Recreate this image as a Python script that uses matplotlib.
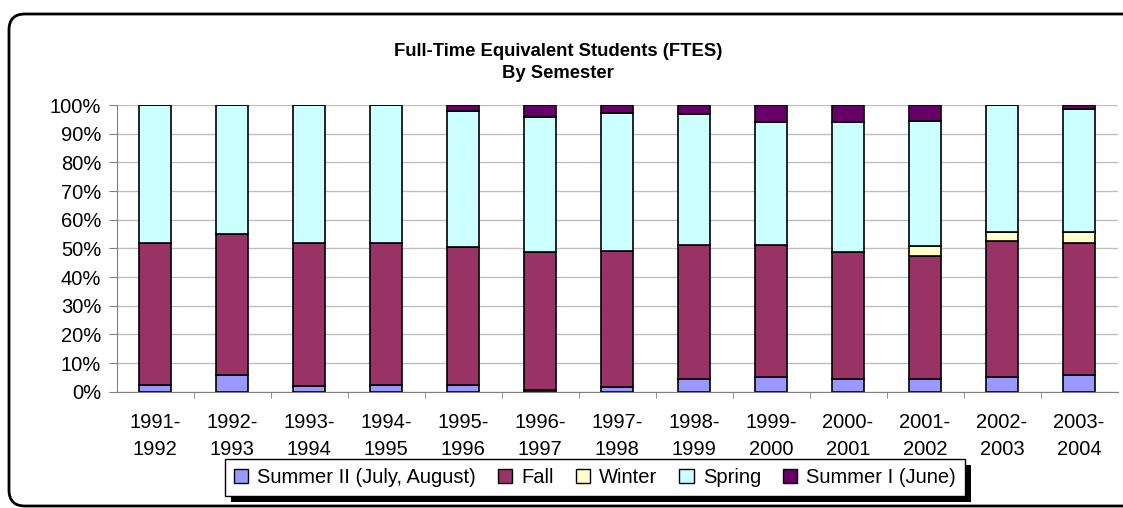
import matplotlib
matplotlib.use("Agg")
import matplotlib.pyplot as plt
import numpy as np
from matplotlib.patches import FancyBboxPatch, Patch
from matplotlib.transforms import IdentityTransform

plt.rcParams['font.family'] = ['Liberation Sans', 'DejaVu Sans']

years = ["1991-\n1992", "1992-\n1993", "1993-\n1994", "1994-\n1995", "1995-\n1996",
         "1996-\n1997", "1997-\n1998", "1998-\n1999", "1999-\n2000", "2000-\n2001",
         "2001-\n2002", "2002-\n2003", "2003-\n2004"]

# percent share of FTES per semester
summer2 = [2.4, 5.7, 1.9, 2.4, 2.3, 0.6, 1.7, 4.4, 5.1, 4.5, 4.5, 5.2, 5.8]
fall    = [49.5, 49.4, 50.0, 49.5, 48.3, 48.0, 47.5, 46.9, 46.2, 44.1, 42.7, 47.2, 46.2]
winter  = [0, 0, 0, 0, 0, 0, 0, 0, 0, 0, 3.5, 3.4, 3.8]
spring  = [48.1, 44.9, 48.1, 48.1, 47.3, 47.3, 48.1, 45.4, 42.7, 45.4, 43.8, 44.2, 42.7]
summer1 = [0, 0, 0, 0, 2.1, 4.1, 2.7, 3.3, 6.0, 6.0, 5.5, 0, 1.5]

names = ["Summer II (July, August)", "Fall", "Winter", "Spring", "Summer I (June)"]
colors = ["#9999FF", "#993366", "#FFFFCC", "#CCFFFF", "#660066"]
series = [summer2, fall, winter, spring, summer1]

fig = plt.figure(figsize=(11.23, 5.08), dpi=100)

# rounded chart frame, runs off the right edge like the original
frame = FancyBboxPatch((9, 2), 1150, 492, boxstyle="round,pad=0,rounding_size=16",
                       transform=IdentityTransform(), fill=False,
                       edgecolor="black", linewidth=2)
fig.patches.append(frame)

ax = fig.add_axes([116.5 / 1123, 1 - 391.7 / 508, 1001 / 1123, 286.7 / 508])

ind = np.arange(len(years))
bottom = np.zeros(len(years))
for vals, col in zip(series, colors):
    vals = np.array(vals)
    ax.bar(ind, vals, 0.415, bottom=bottom, color=col, edgecolor="black",
           linewidth=1.2, zorder=3)
    bottom += vals

ax.set_xlim(-0.5, len(years) - 0.5)
ax.set_ylim(0, 100)
ax.set_yticks(np.arange(0, 101, 10))
ax.set_yticklabels([f"{v}%" for v in range(0, 101, 10)], fontsize=14.5)
ax.yaxis.grid(True, color="#C0C0C0", linewidth=1, zorder=0)
ax.set_xticks(ind)
ax.set_xticklabels(years, fontsize=14.5, linespacing=1.5)
ax.set_xticks(np.arange(0.5, len(years) - 0.5, 1), minor=True)
ax.tick_params(axis="x", which="major", length=0, pad=15.5)
ax.tick_params(axis="x", which="minor", length=4, color="#808080", direction="out")
ax.tick_params(axis="y", length=6, color="#808080", pad=5)
for s in ["top", "right"]:
    ax.spines[s].set_visible(False)
for s in ["left", "bottom"]:
    ax.spines[s].set_color("#808080")

fig.text(0.497, 1 - 51 / 508, "Full-Time Equivalent Students (FTES)", ha="center",
         va="center", fontsize=13.3, fontweight="bold")
fig.text(0.497, 1 - 73 / 508, "By Semester", ha="center", va="center",
         fontsize=13.3, fontweight="bold")

handles = [Patch(facecolor=c, edgecolor="black", linewidth=1) for c in colors]
leg = fig.legend(handles, names, loc="center", bbox_to_anchor=(595 / 1123, 1 - 477.5 / 508),
                 ncol=5, fontsize=14.5, frameon=True, fancybox=False, shadow=False,
                 framealpha=1, facecolor="white",
                 edgecolor="black", handlelength=0.7, handleheight=0.7,
                 handletextpad=0.45, columnspacing=1.1, borderpad=0.45,
                 borderaxespad=0)
leg.get_frame().set_linewidth(1)
leg.set_zorder(5)

# solid black drop shadow behind the legend box
fig.canvas.draw()
bb = leg.get_window_extent()
shadow = plt.Rectangle((bb.x0 + 6, bb.y0 - 6), bb.width, bb.height,
                       transform=IdentityTransform(), facecolor="black",
                       edgecolor="none", zorder=4)
fig.patches.append(shadow)

fig.savefig("out.png", dpi=100)
